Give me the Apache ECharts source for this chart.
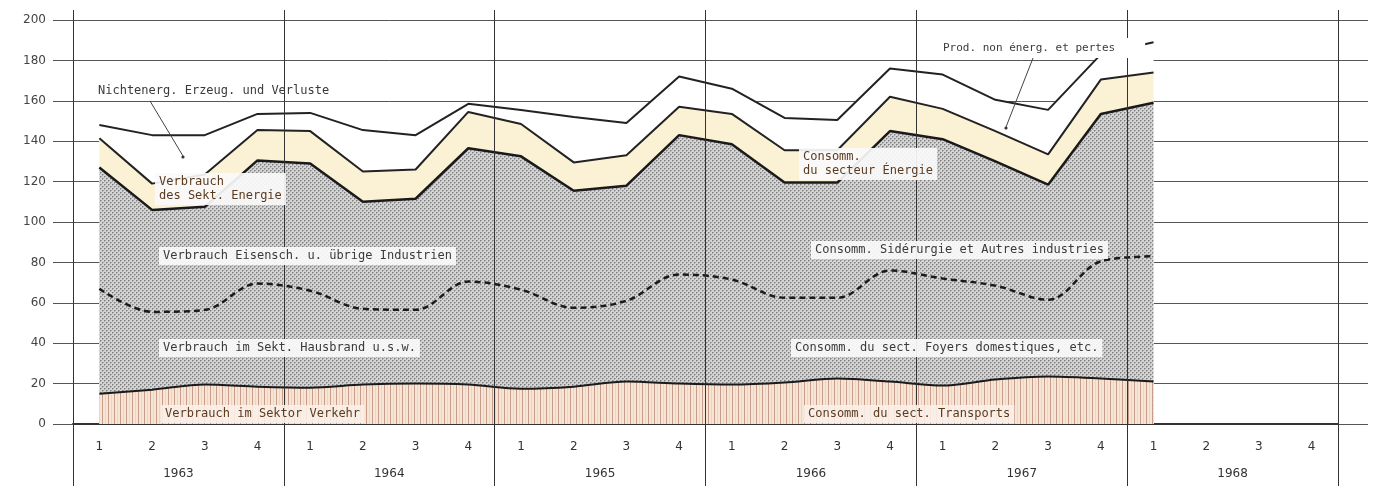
<!DOCTYPE html>
<html>
<head>
<meta charset="utf-8">
<script src="https://cdn.jsdelivr.net/npm/echarts@6/dist/echarts.min.js"></script>
<style>
html,body{margin:0;padding:0;background:#ffffff;}
#chart{width:1386px;height:491px;}
</style>
</head>
<body>
<div id="chart"></div>
<script>
// ---- data ----
const quarterLabels = ['1','2','3','4','1','2','3','4','1','2','3','4','1','2','3','4','1','2','3','4','1','2','3','4'];
const years = ['1963','1964','1965','1966','1967','1968'];
// boundary levels (cumulative), 1963 Q1 .. 1968 Q1
const totalTop     = [148,143,143,153.5,154,145.5,143,158.5,155.5,152,149,172,166,151.5,150.5,176,173,160.5,155.5,183,189];
const energyTop    = [141.5,119,123.5,145.5,145,125,126,154.5,148.5,129.5,133,157,153.5,135.5,135.5,162,156,145,133.5,170.5,174];
const industryTop  = [127,106,107.5,130.5,129,110,111.5,136.5,132.5,115.5,118,143,138.5,119.5,119.5,145,141,130,118.5,153.5,159];
const domesticTop  = [67,55.5,56.5,69.5,66,57,56.5,70.5,66.5,57.5,61,74,71.5,62.5,62.5,76,72,68.5,61.5,80.5,83];
const transportTop = [15,17,19.5,18.5,18,19.5,20,19.5,17.5,18.5,21,20,19.5,20.5,22.5,21,19,22,23.5,22.5,21];

// ---- patterns ----
function dotPattern(){
  const c = document.createElement('canvas'); c.width = 4; c.height = 4;
  const g = c.getContext('2d');
  g.fillStyle = '#d4d4d4'; g.fillRect(0,0,4,4);
  g.fillStyle = '#a6a6a6'; g.fillRect(1,0,1,1); g.fillRect(0,1,1,1); g.fillRect(3,2,1,1); g.fillRect(2,3,1,1);
  g.fillStyle = '#7e7e7e'; g.fillRect(0,0,1,1); g.fillRect(2,2,1,1);
  return c;
}
function stripePattern(){
  const c = document.createElement('canvas'); c.width = 6; c.height = 4;
  const g = c.getContext('2d');
  g.fillStyle = '#f7e5d6'; g.fillRect(0,0,6,4);
  g.fillStyle = '#c99c8a'; g.fillRect(0,0,1,4);
  g.fillStyle = '#efd3c2'; g.fillRect(3,0,1,4);
  return c;
}

const chart = echarts.init(document.getElementById('chart'), null, {renderer:'canvas'});
const labelFont = '12px "DejaVu Sans Mono"';
const txt = (t, x, y, fill, bg, font, pad) => ({
  type:'text', x:x, y:y, z:100,
  style:{text:t, font:font||labelFont, fill:fill||'#3a3a3a', textVerticalAlign:'middle', textAlign:'left',
         lineHeight:14, backgroundColor: bg===undefined ? 'rgba(250,250,250,0.92)' : bg, padding:pad||[2,4,2,4]}
});

const option = {
  animation:false,
  backgroundColor:'#ffffff',
  grid:{left:73, right:48, top:20, bottom:67, containLabel:false},
  xAxis:[
    {type:'category', data:quarterLabels, boundaryGap:true, position:'bottom',
     axisLine:{show:true, lineStyle:{color:'#333', width:2}},
     axisTick:{show:false},
     axisLabel:{margin:17, color:'#333', fontSize:12, fontFamily:'DejaVu Sans'},
     splitLine:{show:false}},
    {type:'category', data:years, boundaryGap:true, position:'bottom', z:10,
     axisLine:{show:false},
     axisTick:{show:true, length:62, lineStyle:{color:'#333', width:1}},
     axisLabel:{margin:44, color:'#333', fontSize:12, fontFamily:'DejaVu Sans'},
     splitLine:{show:true, lineStyle:{color:'#333', width:1}}},
    {type:'category', data:years, boundaryGap:true, position:'top', z:10,
     axisLine:{show:false},
     axisTick:{show:true, length:10, lineStyle:{color:'#333', width:1}},
     axisLabel:{show:false}, splitLine:{show:false}}
  ],
  yAxis:[
    {type:'value', min:0, max:200, interval:20, position:'left',
     axisLine:{show:false},
     axisTick:{show:true, length:20, lineStyle:{color:'#555', width:1}},
     axisLabel:{margin:27, color:'#444', fontSize:12, fontFamily:'DejaVu Sans'},
     splitLine:{show:true, lineStyle:{color:'#555', width:1}}},
    {type:'value', min:0, max:200, interval:20, position:'right',
     axisLine:{show:false},
     axisTick:{show:true, length:30, lineStyle:{color:'#555', width:1}},
     axisLabel:{show:false}, splitLine:{show:false}}
  ],
  series:[
    {name:'Nichtenerg. Erzeug. und Verluste', type:'line', data:totalTop, z:2, symbol:'none',
     lineStyle:{color:'#222', width:2}, areaStyle:{color:'#ffffff', opacity:1}},
    {name:'Verbrauch des Sekt. Energie', type:'line', data:energyTop, z:3, symbol:'none',
     lineStyle:{color:'#222', width:2}, areaStyle:{color:'#fbf2d6', opacity:1}},
    {name:'Verbrauch Eisensch. u. übrige Industrien', type:'line', data:industryTop, z:4, symbol:'none',
     lineStyle:{color:'#1a1a1a', width:2.5}, areaStyle:{color:{image:dotPattern(), repeat:'repeat'}, opacity:1}},
    {name:'Verbrauch im Sekt. Hausbrand u.s.w.', type:'line', data:domesticTop, z:5, symbol:'none', smooth:0.35,
     lineStyle:{color:'#1a1a1a', width:2.5, type:[6,4]}},
    {name:'Verbrauch im Sektor Verkehr', type:'line', data:transportTop, z:6, symbol:'none', smooth:0.3,
     lineStyle:{color:'#1a1a1a', width:2}, areaStyle:{color:{image:stripePattern(), repeat:'repeat'}, opacity:1}}
  ],
  graphic:[
    txt('Nichtenerg. Erzeug. und Verluste', 94, 91, '#3a3a3a', 'rgba(255,255,255,0)'),
    {type:'line', z:100, shape:{x1:150, y1:101, x2:183, y2:156}, style:{stroke:'#444', lineWidth:1}},
    {type:'circle', z:100, shape:{cx:183, cy:157, r:1.6}, style:{fill:'#333'}},
    txt('Verbrauch\ndes Sekt. Energie', 155, 189, '#5b3b1f'),
    txt('Verbrauch Eisensch. u. übrige Industrien', 159, 256),
    txt('Verbrauch im Sekt. Hausbrand u.s.w.', 159, 348),
    txt('Verbrauch im Sektor Verkehr', 161, 414, '#5b3b1f', 'rgba(250,240,232,0.9)'),
    txt('Consomm.\ndu secteur Énergie', 799, 164, '#5b3b1f'),
    txt('Prod. non énerg. et pertes', 939, 48, '#3a3a3a', '#ffffff', '11px "DejaVu Sans Mono"', [4,30,2,4]),
    {type:'line', z:100, shape:{x1:1033, y1:58, x2:1006, y2:127}, style:{stroke:'#444', lineWidth:1}},
    {type:'circle', z:100, shape:{cx:1006, cy:128, r:1.6}, style:{fill:'#333'}},
    txt('Consomm. Sidérurgie et Autres industries', 811, 250),
    txt('Consomm. du sect. Foyers domestiques, etc.', 791, 348),
    txt('Consomm. du sect. Transports', 804, 414, '#5b3b1f', 'rgba(250,240,232,0.9)')
  ]
};
chart.setOption(option);
</script>
</body>
</html>
